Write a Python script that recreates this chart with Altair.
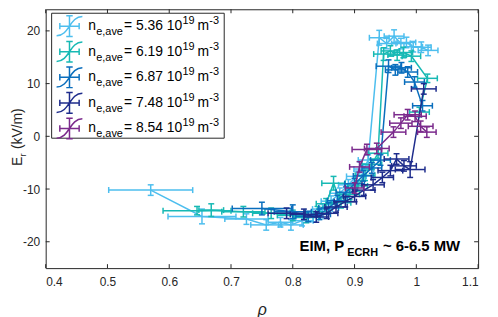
import altair as alt
import pandas as pd

# ---------------- data ----------------
names = ["5.36", "6.19", "6.87", "7.48", "8.54"]
colors = ["#4DBEEE", "#17B9B4", "#0A6EBD", "#1E2C8C", "#7B2A8C"]

rho_1 = [0.570, 0.653, 0.725, 0.757, 0.780, 0.797, 0.815, 0.833, 0.848, 0.862, 0.876, 0.890, 0.903, 0.915, 0.922,
         0.940, 0.952, 0.964, 0.975, 0.984, 0.995, 1.008, 1.019]
er_1 = [-10.2, -15.2, -15.7, -16.8, -16.3, -16.8, -16.0, -15.2, -13.8, -12.3, -10.8, -9.2, -7.6, -6.2, -4.5,
        18.7, 17.6, 19.0, 17.6, 17.8, 17.0, 16.9, 16.3]
drho_1 = [0.068, 0.055, 0.035, 0.025, 0.02, 0.02, 0.018, 0.016, 0.016, 0.016, 0.016, 0.016, 0.016, 0.016, 0.016,
          0.016, 0.015, 0.016, 0.015, 0.015, 0.015, 0.016, 0.016]
der_1 = [1.0, 1.4, 1.0, 1.0, 0.9, 1.0, 1.0, 1.0, 1.0, 1.0, 1.0, 1.0, 1.0, 1.0, 1.0,
         1.4, 1.0, 1.2, 1.0, 1.0, 1.0, 1.0, 1.0]

rho_2 = [0.645, 0.668, 0.720, 0.765, 0.800, 0.822, 0.840, 0.854, 0.866, 0.878, 0.892, 0.905, 0.917, 0.928, 0.938,
         0.947, 0.958, 0.969, 0.979, 0.992, 1.018, 1.005]
er_2 = [-14.1, -14.0, -14.3, -14.6, -15.0, -15.4, -14.3, -12.8, -8.9, -12.6, -11.0, -9.4, -7.4, -5.3, -3.2,
        15.6, 16.2, 15.4, 15.9, 15.2, 11.0, 4.6]
drho_2 = [0.055, 0.02, 0.035, 0.03, 0.025, 0.02, 0.02, 0.016, 0.019, 0.016, 0.016, 0.016, 0.016, 0.016, 0.016,
          0.016, 0.015, 0.015, 0.015, 0.015, 0.016, 0.016]
der_2 = [0.8, 1.2, 1.0, 1.0, 1.0, 1.0, 1.0, 1.0, 1.3, 1.0, 1.0, 1.0, 1.0, 1.0, 1.0,
         1.2, 1.0, 1.0, 1.0, 1.0, 0.8, 0.9]

rho_3 = [0.750, 0.800, 0.825, 0.843, 0.858, 0.872, 0.886, 0.900, 0.914, 0.928, 0.942,
         0.955, 0.966, 0.976, 0.986, 0.997, 1.010]
er_3 = [-13.7, -14.3, -15.2, -14.8, -13.6, -12.2, -10.6, -9.0, -7.5, -6.0, -4.5,
        13.3, 12.6, 13.0, 12.2, 10.3, 5.8]
drho_3 = [0.048, 0.03, 0.02, 0.018, 0.016, 0.016, 0.016, 0.016, 0.016, 0.016, 0.016,
          0.02, 0.016, 0.016, 0.016, 0.016, 0.016]
der_3 = [1.2, 1.3, 1.0, 1.0, 1.0, 1.0, 1.0, 1.0, 1.0, 1.0, 1.0,
         1.2, 1.0, 1.0, 1.0, 1.0, 1.0]

rho_4 = [0.790, 0.818, 0.838, 0.855, 0.870, 0.885, 0.900, 0.915, 0.930, 0.945, 0.958, 0.968, 0.980, 0.990, 1.012]
er_4 = [-14.6, -14.8, -15.3, -14.6, -13.4, -12.4, -11.4, -10.2, -9.2, -7.8, -6.5, -4.3, -5.6, -6.3, 9.0]
drho_4 = [0.03, 0.022, 0.02, 0.018, 0.018, 0.018, 0.018, 0.018, 0.018, 0.018, 0.02, 0.02, 0.02, 0.024, 0.02]
der_4 = [1.0, 1.0, 1.0, 1.0, 1.0, 1.0, 1.0, 1.0, 1.0, 1.0, 1.0, 1.0, 1.0, 1.5, 1.0]

rho_5 = [0.900, 0.908, 0.920, 0.936, 0.963, 0.975, 0.986, 0.998, 1.007, 1.017]
er_5 = [-9.8, -5.8, -2.5, -2.3, 0.8, 2.5, 4.1, 3.8, 1.9, 0.8]
drho_5 = [0.015, 0.016, 0.024, 0.02, 0.02, 0.018, 0.022, 0.018, 0.02, 0.015]
der_5 = [1.0, 1.0, 1.0, 1.0, 1.0, 1.0, 1.0, 1.0, 1.0, 1.0]

xticks = [0.4, 0.5, 0.6, 0.7, 0.8, 0.9, 1, 1.1]
yticks = [-20, -10, 0, 10, 20]

# ---------------- tables ----------------
series = [(rho_1, er_1, drho_1, der_1), (rho_2, er_2, drho_2, der_2), (rho_3, er_3, drho_3, der_3),
          (rho_4, er_4, drho_4, der_4), (rho_5, er_5, drho_5, der_5)]
rows = []
for k, (r, e, dr, de) in enumerate(series):
    for j in range(len(r)):
        rows.append(dict(s=names[k], i=j, rho=r[j], er=e[j],
                         xlo=r[j] - dr[j], xhi=r[j] + dr[j], ylo=e[j] - de[j], yhi=e[j] + de[j]))
df = pd.DataFrame(rows)
one = pd.DataFrame({"a": [0]})
leg = pd.DataFrame({"i": list(range(len(names))), "val": names})

W, H = 436, 261
AX = "#262626"
FONT = "Liberation Sans"

xs = alt.Scale(domain=[0.4, 1.1], nice=False, zero=False)
ys = alt.Scale(domain=[-25, 24.1], nice=False, zero=False)


def X(f):
    return alt.X(f"{f}:Q", scale=xs, title="ρ",
                 axis=alt.Axis(values=xticks, labelExpr="'' + datum.value"))


def Y(f):
    return alt.Y(f"{f}:Q", scale=ys, title="",
                 axis=alt.Axis(values=yticks, labelExpr="'' + datum.value"))


layers = []
LW = 1.5
CAP = 6
for k, nm in enumerate(names):
    c = colors[k]
    b = alt.Chart(df).transform_filter(alt.datum.s == nm)
    layers += [
        b.mark_line(color=c, strokeWidth=LW).encode(x=X("rho"), y=Y("er"), order="i:Q"),
        b.mark_rule(color=c, strokeWidth=LW).encode(x=X("rho"), y=Y("ylo"), y2="yhi:Q"),
        b.mark_rule(color=c, strokeWidth=LW).encode(x=X("xlo"), x2="xhi:Q", y=Y("er")),
        b.mark_tick(color=c, orient="horizontal", size=CAP, thickness=LW, opacity=1).encode(x=X("rho"), y=Y("ylo")),
        b.mark_tick(color=c, orient="horizontal", size=CAP, thickness=LW, opacity=1).encode(x=X("rho"), y=Y("yhi")),
        b.mark_tick(color=c, orient="vertical", size=CAP, thickness=LW, opacity=1).encode(x=X("xlo"), y=Y("er")),
        b.mark_tick(color=c, orient="vertical", size=CAP, thickness=LW, opacity=1).encode(x=X("xhi"), y=Y("er")),
    ]

# inward ticks on all four sides
xt = alt.Chart(pd.DataFrame({"v": xticks}))
yt = alt.Chart(pd.DataFrame({"v": yticks}))
TL = 4
layers += [
    xt.mark_rule(color=AX, strokeWidth=1).encode(x=X("v"), y=alt.value(H), y2=alt.value(H - TL)),
    xt.mark_rule(color=AX, strokeWidth=1).encode(x=X("v"), y=alt.value(0), y2=alt.value(TL)),
    yt.mark_rule(color=AX, strokeWidth=1).encode(y=Y("v"), x=alt.value(0), x2=alt.value(TL)),
    yt.mark_rule(color=AX, strokeWidth=1).encode(y=Y("v"), x=alt.value(W), x2=alt.value(W - TL)),
]

# legend box
layers.append(alt.Chart(one).mark_rect(fill="white", stroke=AX, strokeWidth=1).encode(
    x=alt.value(6), x2=alt.value(180), y=alt.value(4), y2=alt.value(130)))

icon = ("M-0.75,0 L0.75,0 M-0.75,-0.25 L-0.75,0.25 M0.75,-0.25 L0.75,0.25 "
        "M0,-0.8 L0,0.8 M-0.25,-0.8 L0.25,-0.8 M-0.25,0.8 L0.25,0.8 "
        "M-1,0.75 C0,0.75 0,-0.75 1,-0.75")
lb = alt.Chart(leg).transform_calculate(ly="17 + 25.8 * datum.i", lab="'= ' + datum.val + ' 10'")
lcol = alt.Color("val:N", scale=alt.Scale(domain=names, range=colors), legend=None)
LY = alt.Y("ly:Q", scale=None)
layers += [
    lb.mark_point(shape=icon, size=676, filled=False, strokeWidth=1.5, opacity=1).encode(
        x=alt.value(24), y=LY, color=lcol),
    lb.mark_text(align="left", baseline="middle", fontSize=14, font=FONT, color="black").encode(
        x=alt.value(43), y=LY, text=alt.value("n")),
    lb.mark_text(align="left", baseline="middle", fontSize=11, font=FONT, color="black", dy=6).encode(
        x=alt.value(51), y=LY, text=alt.value("e,ave")),
    lb.mark_text(align="left", baseline="middle", fontSize=14, font=FONT, color="black").encode(
        x=alt.value(79), y=LY, text="lab:N"),
    lb.mark_text(align="left", baseline="middle", fontSize=11, font=FONT, color="black", dy=-5).encode(
        x=alt.value(138), y=LY, text=alt.value("19")),
    lb.mark_text(align="left", baseline="middle", fontSize=14, font=FONT, color="black").encode(
        x=alt.value(153), y=LY, text=alt.value("m")),
    lb.mark_text(align="left", baseline="middle", fontSize=11, font=FONT, color="black", dy=-5).encode(
        x=alt.value(165), y=LY, text=alt.value("-3")),
]

# annotation
oc = alt.Chart(one)
layers += [
    oc.mark_text(align="left", baseline="alphabetic", fontSize=15, fontWeight="bold", font=FONT, color="black").encode(
        x=alt.value(256), y=alt.value(244), text=alt.value("EIM, P")),
    oc.mark_text(align="left", baseline="alphabetic", fontSize=11, fontWeight="bold", font=FONT, color="black").encode(
        x=alt.value(304), y=alt.value(249), text=alt.value("ECRH")),
    oc.mark_text(align="left", baseline="alphabetic", fontSize=15, fontWeight="bold", font=FONT, color="black").encode(
        x=alt.value(340), y=alt.value(244), text=alt.value("~ 6-6.5 MW")),
]

# y title E_r (kV/m), rotated
layers += [
    oc.mark_text(align="left", baseline="alphabetic", angle=270, fontSize=14, font=FONT, color=AX).encode(
        x=alt.value(-24), y=alt.value(158), text=alt.value("E")),
    oc.mark_text(align="left", baseline="alphabetic", angle=270, fontSize=10, font=FONT, color=AX).encode(
        x=alt.value(-20), y=alt.value(148.7), text=alt.value("r")),
    oc.mark_text(align="left", baseline="alphabetic", angle=270, fontSize=14, font=FONT, color=AX).encode(
        x=alt.value(-24), y=alt.value(141), text=alt.value("(kV/m)")),
]

chart = alt.layer(*layers).properties(
    width=W, height=H,
    autosize=alt.AutoSizeParams(type="none"),
    padding={"left": 38, "top": 0, "right": 12, "bottom": 48},
).configure_view(stroke=AX, strokeWidth=1).configure_axis(
    domain=False, ticks=False, tickSize=0, grid=False,
    labelFont=FONT, labelFontSize=12, labelColor=AX,
    titleFont=FONT, titleColor=AX,
).configure_axisX(
    labelPadding=9, titleFontSize=16, titleFontStyle="italic", titleFontWeight="normal", titlePadding=14,
).configure_axisY(
    labelPadding=6,
)

chart.save("out.html", embed_options={"renderer": "svg", "actions": False})
